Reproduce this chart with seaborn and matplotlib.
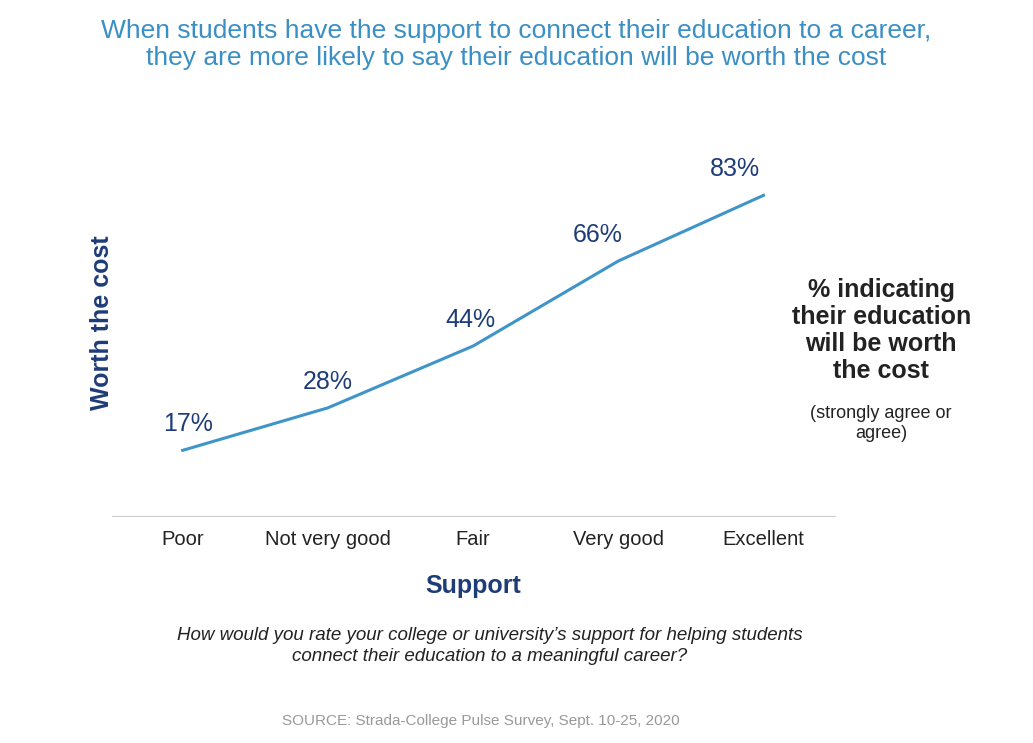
import matplotlib
matplotlib.use("Agg")
import matplotlib.pyplot as plt
import seaborn as sns
import pandas as pd

plt.rcParams["font.family"] = "Liberation Sans"

categories = ["Poor", "Not very good", "Fair", "Very good", "Excellent"]
values = [17, 28, 44, 66, 83]
labels = ["17%", "28%", "44%", "66%", "83%"]

df = pd.DataFrame({"cat": range(len(categories)), "val": values})
fig = plt.figure(figsize=(10.33, 7.43), dpi=100)
ax = fig.add_axes([0.108, 0.3055, 0.7, 0.52])
sns.lineplot(data=df, x="cat", y="val", ax=ax, color="#3f95c8", linewidth=2.2)
ax.set_xlim(-0.49, 4.49)
ax.set_ylim(0, 100)
navy = "#1d3c78"
offsets = [5, 0, -3, -20, -27]
for i, (v, l, dx) in enumerate(zip(values, labels, offsets)):
    ax.annotate(l, (i, v), xytext=(dx * 0.75, 10), textcoords="offset points",
                ha="center", va="bottom", fontsize=18, color=navy)
ax.set_xticks(range(len(categories)))
ax.set_xticklabels(categories, fontsize=14.5, color="#222222")
ax.tick_params(axis="x", length=0, pad=10)
ax.set_yticks([])
for s in ["top", "right", "left"]:
    ax.spines[s].set_visible(False)
ax.spines["bottom"].set_color("#cccccc")
ax.set_xlabel("Support", fontsize=18, fontweight="bold", color=navy, labelpad=18)
ax.set_ylabel("Worth the cost", fontsize=18, fontweight="bold", color=navy, labelpad=-2)

fig.text(0.5, 0.94, "When students have the support to connect their education to a career,\nthey are more likely to say their education will be worth the cost",
         ha="center", va="center", fontsize=19, color="#3a8fc4", linespacing=1.15)
fig.text(0.853, 0.555, "% indicating\ntheir education\nwill be worth\nthe cost", ha="center", va="center",
         fontsize=18, fontweight="bold", color="#222222", linespacing=1.15)
fig.text(0.853, 0.43, "(strongly agree or\nagree)", ha="center", va="center", fontsize=13, color="#222222")
fig.text(0.474, 0.13, "How would you rate your college or university’s support for helping students\nconnect their education to a meaningful career?",
         ha="center", va="center", fontsize=13.5, style="italic", color="#222222", linespacing=1.3)
fig.text(0.465, 0.03, "SOURCE: Strada-College Pulse Survey, Sept. 10-25, 2020", ha="center", va="center",
         fontsize=11, color="#999999")
fig.savefig("out.png", dpi=100)
